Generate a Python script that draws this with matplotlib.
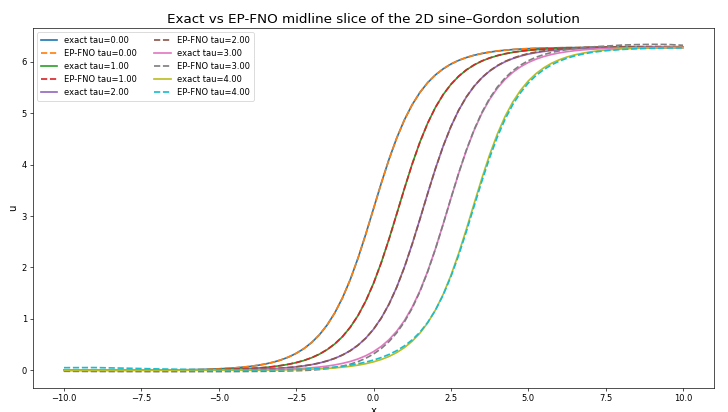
import matplotlib
matplotlib.use("Agg")
import matplotlib.pyplot as plt

# sample positions along the midline (x)
x = [-10, -9, -8, -7, -6, -5.5, -5, -4.5,
     -4, -3.75, -3.5, -3.25, -3, -2.75, -2.5, -2.25, -2, -1.75, -1.5, -1.25,
     -1, -0.75, -0.5, -0.25, 0, 0.25, 0.5, 0.75, 1, 1.25, 1.5, 1.75,
     2, 2.25, 2.5, 2.75, 3, 3.25, 3.5, 3.75, 4, 4.25, 4.5, 4.75,
     5, 5.25, 5.5, 5.75, 6, 6.25, 6.5, 6.75, 7, 7.25, 7.5,
     8, 8.5, 9, 9.5, 10]

taus = [0.0, 1.0, 2.0, 3.0, 4.0]

exact0 = [0.000, 0.001, 0.001, 0.004, 0.010, 0.016, 0.027, 0.044,
          0.073, 0.094, 0.121, 0.155, 0.199, 0.255, 0.328, 0.420, 0.538, 0.688, 0.878, 1.116,
          1.410, 1.765, 2.181, 2.647, 3.142, 3.637, 4.102, 4.518, 4.873, 5.167, 5.405, 5.595,
          5.745, 5.863, 5.956, 6.028, 6.084, 6.128, 6.162, 6.189, 6.210, 6.226, 6.239, 6.249,
          6.256, 6.262, 6.267, 6.271, 6.273, 6.276, 6.277, 6.279, 6.280, 6.280, 6.281,
          6.282, 6.282, 6.283, 6.283, 6.283]
ep0 = [0.004, 0.002, 0.001, 0.003, 0.009, 0.016, 0.028, 0.046,
       0.075, 0.096, 0.122, 0.156, 0.200, 0.257, 0.329, 0.421, 0.539, 0.689, 0.879, 1.117,
       1.411, 1.766, 2.181, 2.646, 3.140, 3.634, 4.100, 4.516, 4.872, 5.167, 5.406, 5.596,
       5.747, 5.865, 5.958, 6.030, 6.086, 6.130, 6.164, 6.191, 6.212, 6.228, 6.241, 6.251,
       6.258, 6.264, 6.268, 6.272, 6.274, 6.276, 6.278, 6.279, 6.280, 6.281, 6.281,
       6.282, 6.282, 6.283, 6.283, 6.282]

exact1 = [0.000, 0.000, 0.001, 0.002, 0.005, 0.007, 0.012, 0.020,
          0.033, 0.042, 0.054, 0.070, 0.090, 0.115, 0.148, 0.189, 0.243, 0.312, 0.400, 0.512,
          0.655, 0.837, 1.064, 1.347, 1.689, 2.093, 2.550, 3.042, 3.539, 4.013, 4.440, 4.807,
          5.113, 5.362, 5.560, 5.718, 5.842, 5.939, 6.015, 6.074, 6.120, 6.156, 6.184, 6.206,
          6.223, 6.237, 6.247, 6.255, 6.261, 6.266, 6.270, 6.273, 6.275, 6.277, 6.278,
          6.280, 6.281, 6.282, 6.283, 6.283]
ep1 = [0.002, 0.001, 0.001, 0.002, 0.005, 0.008, 0.013, 0.021,
       0.034, 0.043, 0.055, 0.071, 0.091, 0.116, 0.149, 0.190, 0.244, 0.313, 0.401, 0.513,
       0.656, 0.838, 1.065, 1.347, 1.689, 2.092, 2.548, 3.039, 3.536, 4.010, 4.438, 4.806,
       5.113, 5.363, 5.562, 5.720, 5.844, 5.941, 6.017, 6.076, 6.122, 6.158, 6.186, 6.208,
       6.225, 6.238, 6.248, 6.256, 6.262, 6.267, 6.271, 6.274, 6.276, 6.278, 6.279,
       6.281, 6.282, 6.283, 6.283, 6.283]

exact2 = [0.000, 0.000, 0.000, 0.001, 0.002, 0.003, 0.005, 0.009,
          0.015, 0.019, 0.024, 0.031, 0.040, 0.052, 0.066, 0.085, 0.109, 0.140, 0.180, 0.231,
          0.297, 0.380, 0.487, 0.624, 0.797, 1.015, 1.285, 1.616, 2.008, 2.456, 2.942, 3.441,
          3.921, 4.359, 4.739, 5.057, 5.316, 5.524, 5.689, 5.819, 5.921, 6.001, 6.063, 6.112,
          6.150, 6.179, 6.202, 6.220, 6.234, 6.245, 6.253, 6.260, 6.265, 6.269, 6.272,
          6.277, 6.279, 6.281, 6.282, 6.282]
ep2 = [0.001, 0.000, 0.000, 0.001, 0.002, 0.003, 0.005, 0.009,
       0.015, 0.019, 0.024, 0.031, 0.040, 0.052, 0.067, 0.086, 0.110, 0.141, 0.181, 0.232,
       0.298, 0.381, 0.488, 0.624, 0.797, 1.014, 1.284, 1.614, 2.005, 2.453, 2.939, 3.438,
       3.919, 4.358, 4.739, 5.058, 5.318, 5.527, 5.693, 5.824, 5.927, 6.008, 6.071, 6.121,
       6.160, 6.190, 6.214, 6.233, 6.248, 6.260, 6.269, 6.276, 6.282, 6.286, 6.289,
       6.294, 6.297, 6.298, 6.297, 6.294]

exact3 = [0.000, 0.000, 0.000, 0.000, 0.001, 0.002, 0.002, 0.004,
          0.007, 0.009, 0.011, 0.014, 0.018, 0.023, 0.030, 0.038, 0.049, 0.063, 0.081, 0.104,
          0.134, 0.171, 0.220, 0.282, 0.362, 0.464, 0.594, 0.759, 0.967, 1.227, 1.545, 1.925,
          2.362, 2.843, 3.341, 3.828, 4.276, 4.668, 4.998, 5.269, 5.486, 5.659, 5.796, 5.903,
          5.987, 6.052, 6.103, 6.143, 6.174, 6.198, 6.217, 6.232, 6.243, 6.252, 6.259,
          6.268, 6.274, 6.278, 6.280, 6.281]
ep3 = [-0.020, -0.024, -0.026, -0.027, -0.027, -0.026, -0.026, -0.025,
       -0.023, -0.022, -0.021, -0.019, -0.017, -0.014, -0.010, -0.005, 0.003, 0.014, 0.030, 0.051,
       0.080, 0.118, 0.168, 0.233, 0.316, 0.422, 0.557, 0.728, 0.942, 1.208, 1.531, 1.916,
       2.357, 2.842, 3.343, 3.833, 4.284, 4.679, 5.013, 5.288, 5.509, 5.686, 5.826, 5.936,
       6.022, 6.089, 6.141, 6.182, 6.214, 6.239, 6.259, 6.275, 6.288, 6.298, 6.306,
       6.325, 6.335, 6.340, 6.338, 6.322]

exact4 = [0.000, 0.000, 0.000, 0.000, 0.000, 0.001, 0.001, 0.002,
          0.003, 0.004, 0.005, 0.006, 0.008, 0.010, 0.013, 0.017, 0.022, 0.028, 0.036, 0.047,
          0.060, 0.077, 0.099, 0.127, 0.163, 0.209, 0.268, 0.344, 0.441, 0.565, 0.723, 0.922,
          1.170, 1.476, 1.844, 2.271, 2.744, 3.242, 3.733, 4.190, 4.594, 4.937, 5.219, 5.447,
          5.628, 5.771, 5.884, 5.972, 6.040, 6.094, 6.136, 6.168, 6.194, 6.214, 6.229,
          6.250, 6.263, 6.271, 6.276, 6.279]
ep4 = [0.050, 0.052, 0.040, 0.026, 0.016, 0.012, 0.009, 0.007,
       0.006, 0.006, 0.007, 0.008, 0.010, 0.013, 0.017, 0.022, 0.029, 0.037, 0.048, 0.062,
       0.079, 0.100, 0.126, 0.158, 0.198, 0.247, 0.307, 0.381, 0.474, 0.591, 0.740, 0.930,
       1.168, 1.463, 1.820, 2.236, 2.700, 3.191, 3.677, 4.132, 4.537, 4.883, 5.169, 5.401,
       5.586, 5.733, 5.849, 5.941, 6.013, 6.070, 6.115, 6.150, 6.178, 6.199, 6.216,
       6.240, 6.255, 6.264, 6.270, 6.272]

exact_series = [exact0, exact1, exact2, exact3, exact4]
ep_series = [ep0, ep1, ep2, ep3, ep4]

W, H = 728, 412
DPI = 100
fig = plt.figure(figsize=(W / DPI * 100 / 60.6667, H / DPI * 100 / 60.6667), dpi=60.6667)
ax = fig.add_axes([33 / W, 1 - 388 / H, (714 - 33) / W, (388 - 28) / H])

colors = plt.rcParams['axes.prop_cycle'].by_key()['color']
ci = 0
for tau, ex, ep in zip(taus, exact_series, ep_series):
    ax.plot(x, ex, '-', lw=2, color=colors[ci % 10], label=f"exact tau={tau:.2f}")
    ci += 1
    ax.plot(x, ep, '--', lw=2, color=colors[ci % 10], label=f"EP-FNO tau={tau:.2f}")
    ci += 1

ax.set_title("Exact vs EP-FNO midline slice of the 2D sine\u2013Gordon solution", fontsize=16)
ax.set_xlabel("x", fontsize=12)
ax.set_ylabel("u", fontsize=12)
ax.legend(ncol=2, loc="upper left")

fig.savefig("out.png", dpi=60.6667)
